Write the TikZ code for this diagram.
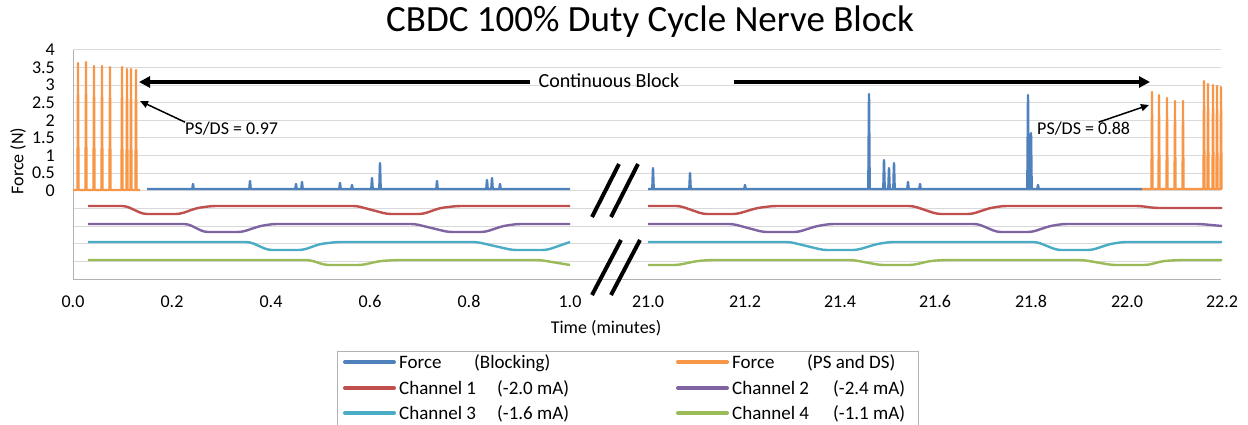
\documentclass[tikz,border=0pt]{standalone}
\usepackage{fontspec}
\setmainfont{Carlito}
\usetikzlibrary{arrows.meta}
\definecolor{azul}{HTML}{4F81BD}
\definecolor{naranja}{HTML}{F79646}
\definecolor{rojo}{HTML}{C0504D}
\definecolor{morado}{HTML}{8064A2}
\definecolor{celeste}{HTML}{4BACC6}
\definecolor{verde}{HTML}{9BBB59}
\begin{document}
\begin{tikzpicture}[x=1pt,y=-1pt,
    rejilla/.style={draw=black!15,line width=1pt},
    serie/.style={line width=2.4pt,line join=round},
    canal/.style={serie,rounded corners=4pt},
    texto/.style={inner sep=0pt,font=\fontsize{18}{20}\selectfont},
    leyenda/.style={inner sep=0pt,anchor=base west,font=\fontsize{19}{22}\selectfont},
    corte/.style={line width=4pt},
    flechaGruesa/.style={line width=3.3pt,-{Triangle[length=11pt,width=11pt]}},
    flechaFina/.style={line width=1.5pt,-{Triangle[length=8pt,width=7pt]}}]
            % Fondo
            \fill[white] (0,0) rectangle (1248,425);
            \useasboundingbox (0,0) rectangle (1248,425);

            % Titulo
            \node[font=\fontsize{37}{42}\selectfont] (titulo) at (650,22) {CBDC 100\% Duty Cycle Nerve Block};

            % Rejilla y ejes
            \foreach \k in {0,...,12}
                \draw[rejilla] (73,{50+17.6*\k}) -- (1221,{50+17.6*\k});
            \draw[black!30,line width=1pt] (73,50) -- (73,279) -- (1221,279);

            % Etiquetas de los ejes
            \foreach \v [count=\i] in {4,3.5,3,2.5,2,1.5,1,0.5,0}
                \node[texto,anchor=east] (ty\i) at (55,{50+17.6*(\i-1)}) {\v};
            \foreach \t/\x [count=\i] in {0.0/73,0.2/172,0.4/271,0.6/370,0.8/469,1.0/570,21.0/648,21.2/745,21.4/840,21.6/935,21.8/1031,22.0/1127,22.2/1222}
                \node[texto,anchor=base] (tx\i) at (\x,307) {\t};
            \node[texto,rotate=90] (ejey) at (18,161) {Force (N)};
            \node[texto] (ejex) at (606,328) {Time (minutes)};

            % Fuerza durante el bloqueo
            \draw[serie,azul] (147,189) foreach \x/\y in {193/184,250/181,296/184,302/182,340/183,352/185,372/178,380/163,437/181,487/180,492/178,500/184} { -- (\x-0.7,189) -- (\x,\y) -- (\x+0.7,189)} -- (570,189);
            \draw[serie,azul] (648,189) foreach \x/\y in {653/168,690/173,745/185,869/94,884/160,889/168,894/163,908/182,920/184,1028/95,1031/133,1038/185} { -- (\x-0.7,189) -- (\x,\y) -- (\x+0.7,189)} -- (1142,189);

            % Fuerza PS y DS
            \draw[serie,naranja,line width=2.2pt] (73,190) foreach \x/\y in {78/63,86/62,94/66,102/66,110/67,122/67,127/69,131/69,136/70} { -- (\x-0.6,190) -- (\x,\y) -- (\x+0.6,190)} -- (140,190);
            \draw[serie,naranja,line width=2.2pt] (1142,189) foreach \x/\y in {1152/92,1159/95,1167/98,1175/101,1183/101,1204/81,1208/84,1213/85,1217/86,1221/87} { -- (\x-0.6,189) -- (\x,\y) -- (\x+0.6,189)} -- (1222,189);

            % Canales
            \draw[canal,rojo] (88,206) -- (126,206) -- (143,214) -- (180,214) -- (197,208) -- (212,206) -- (357,206) -- (387,214) -- (423,214) -- (440,208) -- (457,206) -- (570,206);
            \draw[canal,rojo] (648,206) -- (680,206) -- (703,214) -- (737,214) -- (757,208) -- (773,206) -- (913,206) -- (937,214) -- (972,214) -- (990,208) -- (1003,206) -- (1140,206) -- (1155,208) -- (1222,208);
            \draw[canal,morado] (88,224) -- (188,224) -- (204,232) -- (242,232) -- (260,226) -- (273,224) -- (415,224) -- (448,232) -- (485,232) -- (503,226) -- (517,224) -- (570,224);
            \draw[canal,morado] (648,224) -- (733,224) -- (763,232) -- (798,232) -- (817,226) -- (830,224) -- (978,224) -- (997,232) -- (1032,232) -- (1050,226) -- (1063,224) -- (1200,224) -- (1222,226);
            \draw[canal,celeste] (88,242) -- (250,242) -- (268,250) -- (303,250) -- (320,244) -- (337,242) -- (477,242) -- (512,250) -- (547,250) -- (570,242);
            \draw[canal,celeste] (648,242) -- (790,242) -- (823,250) -- (857,250) -- (877,244) -- (890,242) -- (1037,242) -- (1057,250) -- (1092,250) -- (1110,244) -- (1123,242) -- (1222,242);
            \draw[canal,verde] (88,260) -- (310,260) -- (325,265) -- (362,265) -- (380,261) -- (397,260) -- (540,260) -- (570,265);
            \draw[canal,verde] (648,265) -- (678,265) -- (697,261) -- (710,260) -- (853,260) -- (880,265) -- (913,265) -- (930,261) -- (943,260) -- (1083,260) -- (1112,265) -- (1148,265) -- (1163,261) -- (1180,260) -- (1222,260);

            % Marcas de corte
            \draw[corte] (592,217) -- (619,164);
            \draw[corte] (611,217) -- (638,164);
            \draw[corte] (592,295) -- (621,240);
            \draw[corte] (611,295) -- (640,240);

            % Bloqueo continuo
            \node[font=\fontsize{20}{24}\selectfont,inner sep=0pt] (bloque) at (609,81) {Continuous Block};
            \coordinate (puntaIzq) at (139,82);
            \coordinate (puntaDer) at (1150,82);
            \draw[flechaGruesa] (bloque.west) ++(-8,1) -- (puntaIzq);
            \draw[flechaGruesa] (bloque.east) ++(54,1) -- (puntaDer);

            % Cocientes PS/DS
            \node[texto,anchor=west] (psdsIzq) at (185,129) {PS/DS = 0.97};
            \node[texto,anchor=west] (psdsDer) at (1037,129) {PS/DS = 0.88};
            \coordinate (picoIzq) at (140,101);
            \coordinate (picoDer) at (1149,105);
            \draw[flechaFina] (psdsIzq.north west) -- (picoIzq);
            \draw[flechaFina] (psdsDer.north) ++(15,0) -- (picoDer);

            % Leyenda
            \draw[black!30,line width=1pt] (337,351) rectangle (918,440);
            \foreach \c/\xa/\nom/\xb/\val/\yb [count=\i] in {azul/345/Force/474/{(Blocking)}/368,
                naranja/678/Force/807/{(PS and DS)}/368,
                rojo/345/Channel 1/497/{(-2.0 mA)}/394,
                morado/678/Channel 2/833/{(-2.4 mA)}/394,
                celeste/345/Channel 3/497/{(-1.6 mA)}/419,
                verde/678/Channel 4/833/{(-1.1 mA)}/419}
            {
                \draw[\c,line width=4pt,line cap=round] (\xa,\yb-6) -- ++(49,0);
                \node[leyenda] (nom\i) at (\xa+54,\yb) {\nom};
                \node[leyenda] (val\i) at (\xb,\yb) {\val};
            }
        \end{tikzpicture}
\end{document}
